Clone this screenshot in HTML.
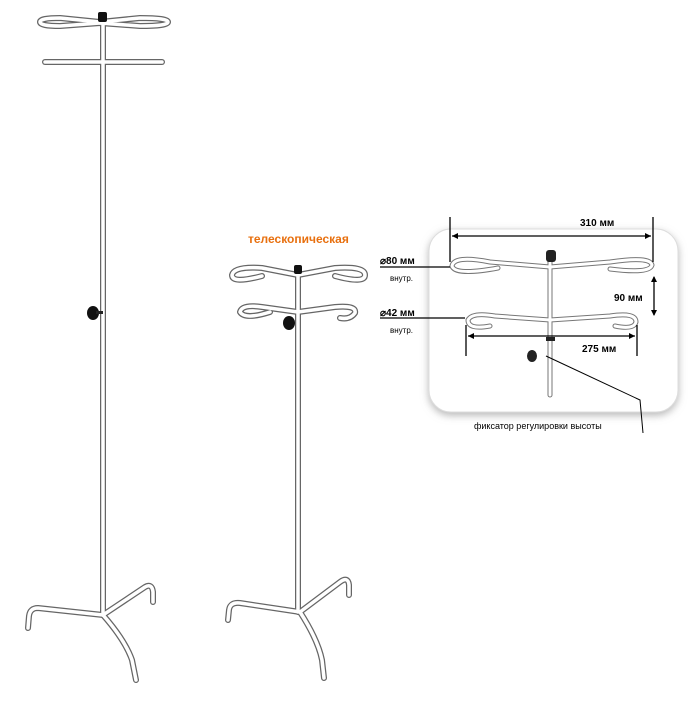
<!DOCTYPE html>
<html><head><meta charset="utf-8"><style>
body{margin:0;background:#fff;width:700px;height:700px;overflow:hidden}
svg text{font-family:"Liberation Sans",sans-serif}
</style></head><body>
<svg width="700" height="700" viewBox="0 0 700 700">
<defs>
<g id="tube"></g>
<filter id="sh" x="-10%" y="-10%" width="120%" height="130%"><feDropShadow dx="0" dy="3" stdDeviation="4" flood-color="#888" flood-opacity="0.6"/></filter>
</defs>
<!-- Left stand -->
<g fill="none" stroke-linecap="round" stroke-linejoin="round">
<g stroke="#666" stroke-width="6">
<path d="M103 20 V615"/>
<path d="M40 22 Q40 18 60 18 L100 22 L140 18 Q168 18 168 22 Q168 26 140 26 L100 23 L60 26 Q40 26 40 22"/>
<path d="M45 62 L162 62"/>
<path d="M103 615 L38 608 Q30 608 29 616 L28 628"/>
<path d="M103 615 L145 587 Q152 583 153 592 L153 602"/>
<path d="M103 615 Q125 640 132 660 L136 680"/>
</g>
<g stroke="#fff" stroke-width="3.5">
<path d="M103 20 V615"/>
<path d="M40 22 Q40 18 60 18 L100 22 L140 18 Q168 18 168 22 Q168 26 140 26 L100 23 L60 26 Q40 26 40 22"/>
<path d="M45 62 L162 62"/>
<path d="M103 615 L38 608 Q30 608 29 616 L28 628"/>
<path d="M103 615 L145 587 Q152 583 153 592 L153 602"/>
<path d="M103 615 Q125 640 132 660 L136 680"/>
</g>
</g>
<rect x="98" y="12" width="9" height="10" rx="2" fill="#111"/>
<ellipse cx="93" cy="313" rx="6" ry="7" fill="#111"/>
<rect x="96" y="311" width="7" height="3" fill="#222"/>
<!-- Middle stand -->
<g fill="none" stroke-linecap="round" stroke-linejoin="round">
<g stroke="#666" stroke-width="6">
<path d="M298 272 V612"/>
<path d="M262 276 Q232 284 232 275 Q234 266 262 268 L298 275 L335 268 Q365 266 365 275 Q365 284 335 276"/>
<path d="M270 312 Q245 320 240 312 Q242 304 262 307 L298 312 L335 307 Q357 305 355 313 Q350 320 340 318"/>
<path d="M300 612 L240 603 Q230 602 229 610 L228 620"/>
<path d="M300 612 L340 582 Q348 576 349 585 L349 595"/>
<path d="M300 612 Q318 640 322 660 L324 678"/>
</g>
<g stroke="#fff" stroke-width="3.5">
<path d="M298 272 V612"/>
<path d="M262 276 Q232 284 232 275 Q234 266 262 268 L298 275 L335 268 Q365 266 365 275 Q365 284 335 276"/>
<path d="M270 312 Q245 320 240 312 Q242 304 262 307 L298 312 L335 307 Q357 305 355 313 Q350 320 340 318"/>
<path d="M300 612 L240 603 Q230 602 229 610 L228 620"/>
<path d="M300 612 L340 582 Q348 576 349 585 L349 595"/>
<path d="M300 612 Q318 640 322 660 L324 678"/>
</g>
</g>
<rect x="294" y="265" width="8" height="9" rx="2" fill="#111"/>
<ellipse cx="289" cy="323" rx="6" ry="7" fill="#111"/>
<text x="248" y="243" font-size="12" font-weight="bold" fill="#e8700f">телескопическая</text>
<!-- Panel -->
<rect x="429" y="229" width="249" height="183" rx="22" fill="#fff" stroke="#ddd" filter="url(#sh)"/>
<g fill="none" stroke-linecap="round" stroke-linejoin="round">
<g stroke="#777" stroke-width="5">
<path d="M550 262 V395"/>
<path d="M498 268 Q455 276 452 266 Q454 255 490 262 L550 267 L610 262 Q650 256 652 265 Q650 274 610 269"/>
<path d="M490 326 Q468 330 468 320 Q472 312 495 316 L550 320 L610 316 Q636 312 636 322 Q634 330 615 326"/>
</g>
<g stroke="#fff" stroke-width="3">
<path d="M550 262 V395"/>
<path d="M498 268 Q455 276 452 266 Q454 255 490 262 L550 267 L610 262 Q650 256 652 265 Q650 274 610 269"/>
<path d="M490 326 Q468 330 468 320 Q472 312 495 316 L550 320 L610 316 Q636 312 636 322 Q634 330 615 326"/>
</g>
</g>
<rect x="546" y="250" width="10" height="12" rx="3" fill="#222"/>
<rect x="546" y="337" width="9" height="4" fill="#222"/>
<ellipse cx="532" cy="356" rx="5" ry="6" fill="#222"/>
<g stroke="#000" stroke-width="1.3" fill="#000">
<line x1="450" y1="217" x2="450" y2="262"/>
<line x1="653" y1="217" x2="653" y2="262"/>
<line x1="452" y1="236" x2="651" y2="236"/>
<polygon points="452,236 458,233 458,239" stroke="none"/>
<polygon points="651,236 645,233 645,239" stroke="none"/>
<line x1="466" y1="325" x2="466" y2="356"/>
<line x1="637" y1="325" x2="637" y2="356"/>
<line x1="468" y1="336" x2="635" y2="336"/>
<polygon points="468,336 474,333 474,339" stroke="none"/>
<polygon points="635,336 629,333 629,339" stroke="none"/>
<line x1="654" y1="277" x2="654" y2="315"/>
<polygon points="654,276 651,282 657,282" stroke="none"/>
<polygon points="654,316 651,310 657,310" stroke="none"/>
<line x1="380" y1="267" x2="450" y2="267"/>
<line x1="380" y1="318" x2="465" y2="318"/>
<polyline points="546,356 640,400 643,433" fill="none" stroke-width="1"/>
</g>
<text x="580" y="226" font-size="10" font-weight="bold">310 мм</text>
<text x="614" y="301" font-size="10" font-weight="bold">90 мм</text>
<text x="582" y="352" font-size="10" font-weight="bold">275 мм</text>
<text x="380" y="264" font-size="10" font-weight="bold">⌀80 мм</text>
<text x="390" y="281" font-size="8">внутр.</text>
<text x="380" y="316" font-size="10" font-weight="bold">⌀42 мм</text>
<text x="390" y="333" font-size="8">внутр.</text>
<text x="474" y="429" font-size="9">фиксатор регулировки высоты</text>
</svg>
</body></html>
